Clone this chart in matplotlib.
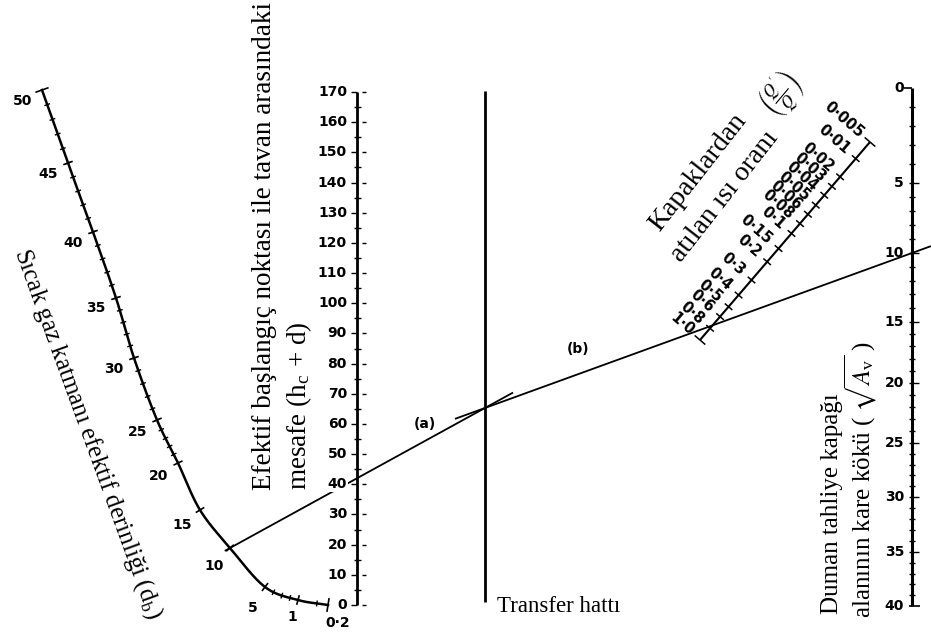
import numpy as np
import matplotlib
matplotlib.use("Agg")
import matplotlib.pyplot as plt

plt.rcParams['mathtext.fontset'] = 'stix'

# ---------------- data (nomogram scales) ----------------
# Hot gas layer depth d_b : scale values and their calibration points on the curved scale
db_values = [50, 45, 40, 35, 30, 25, 20, 15, 10, 5, 1, 0.2]
db_cal_x = [42, 68, 93, 116, 134, 157, 178, 200, 230, 265, 298, 328]
db_cal_y = [90, 163, 232, 298, 358, 420, 463, 510, 548, 587, 600, 605]
db_labels = ['50', '45', '40', '35', '30', '25', '20', '15', '10', '5', '1', '0·2']
db_minor = list(range(21, 50)) + [2, 3, 4, 0.5]

# h_c + d : linear scale 0..170
hcd_ticks = list(range(0, 171, 10))
hcd_minor = list(range(5, 170, 10))

# sqrt(A_v) : scale values and calibration along vertical axis
av_values = [0, 5, 10, 15, 20, 25, 30, 35, 40]
av_cal_y = [88, 183, 253, 322, 383, 443, 497, 552, 606]
av_minor = [v for v in range(0, 41) if v % 5]

# ratio Q'/Q : values, labels, and fraction along the slanted scale
ratio_values = [0.005, 0.01, 0.02, 0.03, 0.04, 0.05, 0.06, 0.08, 0.1, 0.15,
                0.2, 0.3, 0.4, 0.5, 0.6, 0.8, 1.0]
ratio_labels = ['0·005', '0·01', '0·02', '0·03', '0·04', '0·05', '0·06', '0·08',
                '0·1', '0·15', '0·2', '0·3', '0·4', '0·5', '0·6', '0·8', '1·0']
ratio_frac = [0.0, 0.084, 0.176, 0.224, 0.269, 0.319, 0.365, 0.412, 0.462, 0.538,
              0.605, 0.697, 0.773, 0.832, 0.882, 0.941, 1.0]

# worked example (a)/(b)
example_db = 10
example_hcd = 42
example_av = 10

# ---------------- layout ----------------
W, H = 931, 643
HCD_X, HCD_Y0, HCD_Y1 = 357, 605, 92
TRANSFER_X, TRANSFER_Y0, TRANSFER_Y1 = 485, 91, 602
AV_X = 912
RATIO_A = np.array([870.0, 142.0])   # 0.005 end
RATIO_B = np.array([700.0, 340.0])   # 1.0 end

fig = plt.figure(figsize=(W / 100, H / 100), dpi=100)
ax = fig.add_axes([0, 0, 1, 1])
ax.set_xlim(0, W)
ax.set_ylim(H, 0)
ax.axis('off')

K = 'black'
NUM = dict(family='DejaVu Sans', fontweight='bold', fontsize=10, color=K)
SERIF = dict(family='Liberation Serif', color=K)


def seg(p, q, lw=1.2, **kw):
    ax.plot([p[0], q[0]], [p[1], q[1]], color=K, lw=lw, solid_capstyle='butt', **kw)


# ---------------- d_b curved scale (Catmull-Rom through calibration points) ----------------
P = np.column_stack([db_cal_x, db_cal_y]).astype(float)


def cr(i, t):
    p0 = P[max(i - 1, 0)]
    p1 = P[i]
    p2 = P[i + 1]
    p3 = P[min(i + 2, len(P) - 1)]
    if i == 0:
        p0 = 2 * p1 - p2
    if i + 2 > len(P) - 1:
        p3 = 2 * p2 - p1
    t2, t3 = t * t, t * t * t
    return 0.5 * ((2 * p1) + (-p0 + p2) * t + (2 * p0 - 5 * p1 + 4 * p2 - p3) * t2
                  + (-p0 + 3 * p1 - 3 * p2 + p3) * t3)


def db_pos(v):
    for i in range(len(db_values) - 1):
        a, b = db_values[i], db_values[i + 1]
        if b <= v <= a:
            return cr(i, (v - a) / (b - a))
    return P[-1]


def db_tan(v):
    e = 0.05
    d = db_pos(max(v - e, 0.2)) - db_pos(min(v + e, 50))
    return d / np.linalg.norm(d)


curve = np.array([cr(i, t) for i in range(len(P) - 1) for t in np.linspace(0, 1, 30)])
ax.plot(curve[:, 0], curve[:, 1], color=K, lw=1.8)

for v in db_minor:
    p = db_pos(v)
    t = db_tan(v)
    n = np.array([-t[1], t[0]])
    seg(p - 3 * n, p + 3 * n, lw=1.0)
for v, lab in zip(db_values, db_labels):
    p = db_pos(v)
    t = db_tan(v)
    n = np.array([-t[1], t[0]])   # points to outer (left/down) side
    L = 7 if v in (50, 0.2) else 5
    seg(p - L * n, p + L * n, lw=1.2)
    if v >= 5:
        q = p + 21 * n + np.array([0, 4])
    elif v == 1:
        q = p + np.array([-6, 17])
    else:
        q = p + np.array([10, 18])
    ax.text(q[0], q[1], lab, ha='center', va='center', **NUM)

ax.text(88, 434, 'Sıcak gaz katmanı efektif derinliği (d$_\\mathregular{b}$)',
        rotation=-70, ha='center', va='center', rotation_mode='anchor',
        fontsize=18, **SERIF)

# ---------------- h_c + d scale ----------------
def hcd_y(v):
    return HCD_Y0 + v * (HCD_Y1 - HCD_Y0) / 170.0


seg((HCD_X, hcd_y(0)), (HCD_X, hcd_y(170)), lw=2.0)
for v in hcd_minor:
    seg((HCD_X - 3, hcd_y(v)), (HCD_X + 4, hcd_y(v)), lw=1.0)
for v in hcd_ticks:
    y = hcd_y(v)
    seg((HCD_X - 6, y), (HCD_X, y), lw=1.0)
    seg((HCD_X + 5, y), (HCD_X + 9, y), lw=1.0)
    ax.text(HCD_X - 10, y, str(v), ha='right', va='center', zorder=5,
            bbox=dict(fc='white', ec='none', pad=0.5), **NUM)

ax.text(271, 490, 'Efektif başlangıç noktası ile tavan arasındaki', rotation=90,
        ha='left', va='baseline', rotation_mode='anchor', fontsize=19.5, **SERIF)
ax.text(306, 490, 'mesafe (h$_\\mathregular{c}$ + d)', rotation=90,
        ha='left', va='baseline', rotation_mode='anchor', fontsize=19.5, **SERIF)

# ---------------- transfer line ----------------
seg((TRANSFER_X, TRANSFER_Y0), (TRANSFER_X, TRANSFER_Y1), lw=2.0)
ax.text(TRANSFER_X + 12, 607, 'Transfer hattı', ha='left', va='center',
        fontsize=16.5, **SERIF)

# ---------------- sqrt(A_v) scale ----------------
def av_y(v):
    return float(np.interp(v, av_values, av_cal_y))


seg((AV_X, av_y(0)), (AV_X, av_y(40)), lw=2.2)
for v in av_minor:
    seg((AV_X - 3, av_y(v)), (AV_X + 3, av_y(v)), lw=1.0)
for v in av_values:
    y = av_y(v)
    if v == 0:
        seg((AV_X - 8, y), (AV_X, y), lw=1.2)
    elif v == 40:
        seg((AV_X - 3, y), (AV_X + 8, y), lw=1.2)
    else:
        seg((AV_X - 3, y), (AV_X + 7, y), lw=1.0)
    ax.text(AV_X - 8, y, str(v), ha='right', va='center', **NUM)

ax.text(838, 614, 'Duman tahliye kapağı', rotation=90,
        ha='left', va='baseline', rotation_mode='anchor', fontsize=18, **SERIF)
ax.text(871, 618, 'alanının kare kökü ( $\\sqrt{A_\\mathregular{v}}$ )', rotation=90,
        ha='left', va='baseline', rotation_mode='anchor', fontsize=18, **SERIF)

# ---------------- ratio scale ----------------
d = RATIO_B - RATIO_A
u = d / np.linalg.norm(d)
perp_ul = np.array([u[1], -u[0]])
if perp_ul[0] > 0:
    perp_ul = -perp_ul


def ratio_pos(v):
    f = float(np.interp(np.log(v), np.log(ratio_values), ratio_frac))
    return RATIO_A + f * d


seg(RATIO_A, RATIO_B, lw=1.5)
read_dir = -perp_ul
lab_rot = np.degrees(np.arctan2(-read_dir[1], read_dir[0]))
for v, lab in zip(ratio_values, ratio_labels):
    p = ratio_pos(v)
    L = 7 if v in (0.005, 1.0) else 5
    seg(p - L * perp_ul, p + L * perp_ul, lw=1.1)
    q = p + 11 * perp_ul
    ax.text(q[0], q[1], lab, rotation=lab_rot, ha='right', va='center',
            rotation_mode='anchor', family='DejaVu Sans', fontweight='bold',
            fontsize=10.5, color=K)

ax.text(698, 172, 'Kapaklardan', rotation=52, ha='center', va='center',
        rotation_mode='anchor', fontsize=20, **SERIF)
ax.text(725, 196, 'atılan ısı oranı', rotation=52, ha='center', va='center',
        rotation_mode='anchor', fontsize=20, **SERIF)
ax.text(782, 95, "$\\left(\\frac{Q'}{Q}\\right)$", rotation=50, ha='center', va='center',
        rotation_mode='anchor', fontsize=17, color=K)

# ---------------- worked example lines ----------------
P1 = db_pos(example_db)
P2 = np.array([HCD_X, hcd_y(example_hcd)])
ua = (P2 - P1) / np.linalg.norm(P2 - P1)
T = P1 + ua * (TRANSFER_X - P1[0]) / ua[0]
seg(P1 - 6 * ua, T + 32 * ua, lw=1.3)

P3 = np.array([AV_X, av_y(example_av)])
ub = (P3 - T) / np.linalg.norm(P3 - T)
end_b = T + ub * (W - T[0]) / ub[0]
seg(T - 32 * ub, end_b, lw=1.3)

ax.text(425, 424, '(a)', ha='center', va='center', **NUM)
ax.text(578, 349, '(b)', ha='center', va='center', **NUM)

fig.savefig('out.png', dpi=100, facecolor='white')
